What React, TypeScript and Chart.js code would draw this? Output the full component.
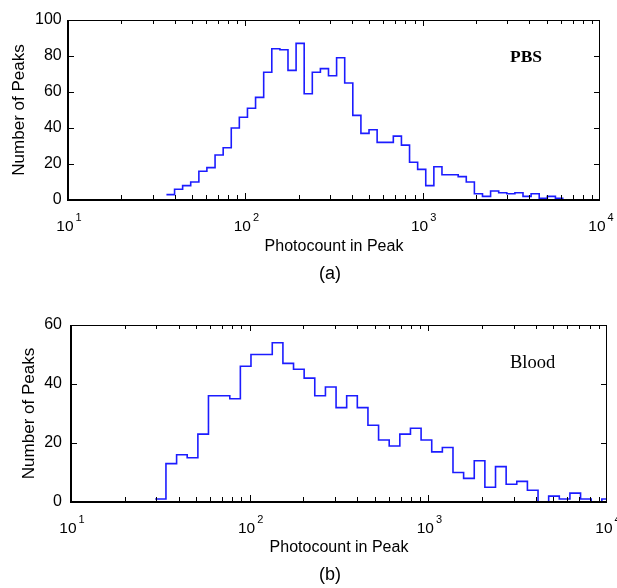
import React, { useEffect, useRef } from "react";
import { Chart, registerables } from "chart.js";

Chart.register(...registerables);

// ---------------- Data ----------------
// Panel (a) PBS: log-spaced bin edges (photocount) and counts per bin
const pbsBinEdges = [
  35.9, 39.9, 44.3, 49.2, 54.7, 60.7, 67.5, 75.0, 83.3, 92.5,
  102.8, 114.2, 126.9, 141.0, 156.6, 174.0, 193.3, 214.7, 238.6, 265.0,
  294.4, 327.1, 363.4, 403.7, 448.5, 498.3, 553.6, 615.0, 683.2, 759.0,
  843.3, 936.9, 1040.9, 1156.4, 1284.7, 1427.3, 1585.7, 1761.7, 1957.2, 2174.3,
  2415.5, 2683.6, 2981.4, 3312.2, 3679.8, 4088.1, 4541.7, 5045.7, 5605.6, 6227.6,
];
const pbsCounts = [
  3, 6, 8, 10, 16, 18, 25, 29, 40, 46,
  51, 57, 71, 84, 83.5, 72, 87, 59, 71, 73,
  69, 79, 65, 47, 37, 39, 32, 32, 35.5, 30.5,
  21, 17, 8, 18.5, 14, 14, 13, 10, 3.5, 2,
  5, 4, 3.5, 4, 2, 3.5, 1, 2, 1,
];

// Panel (b) Blood
const bloodBinEdges = [
  29.6, 34.0, 39.0, 44.7, 51.3, 58.8, 67.5, 77.4, 88.7, 101.7,
  116.7, 133.8, 153.5, 176.0, 201.8, 231.4, 265.5, 304.5, 349.1, 400.4,
  459.2, 526.6, 603.9, 692.6, 794.3, 910.9, 1044.7, 1198.1, 1374.0, 1575.7,
  1807.2, 2072.5, 2376.8, 2725.8, 3126.1, 3585.1, 4111.5, 4715.3, 5407.7, 6201.7,
  7112.4, 8156.8, 9354.5, 10728,
];
const bloodCounts = [
  1, 13, 16, 15, 23, 36, 36, 35, 46, 50,
  50, 54, 47, 45, 42, 36, 39, 32, 36, 32,
  26, 21, 19, 23, 25, 21, 17, 18.5, 10, 8,
  14, 5, 12, 6, 7, 4, 0, 2, 1, 3,
  1, 0, 1,
];

// Axis definitions
const xMin = 10;
const xMax = 10000;
const xMajorExponents = [1, 2, 3, 4];
const xMinorMultipliers = [2, 3, 4, 5, 6, 7, 8, 9];
const pbsYMax = 100;
const bloodYMax = 60;
const yStep = 20;
const xTitle = "Photocount in Peak";
const yTitle = "Number of Peaks";

const SANS = "'Liberation Sans', Arial, Helvetica, sans-serif";
const SERIF = "'Liberation Serif', 'Times New Roman', serif";
const LINE_COLOR = "rgb(28,28,255)";

type PanelProps = {
  edges: number[];
  counts: number[];
  yMax: number;
  label: string;
  labelFont: string;
  labelX: number;
  labelY: number;
  caption: string;
  captionX: number;
  captionY: number;
  top: number;
  height: number;
  padTop: number;
  padRight: number;
  yAxisWidth: number;
  yTickPad: number;
  yTitlePad: number;
  xAxisHeight: number;
  xTitlePad: number;
};

function makeFramePlugin(p: PanelProps) {
  return {
    id: "frame",
    afterDraw(chart: any) {
      const { ctx, chartArea: a, scales } = chart;
      const xs = scales.x;
      const ys = scales.y;
      ctx.save();
      ctx.fillStyle = "#000";
      const L = Math.round(a.left);
      const R = Math.round(a.right) - 1;
      const T = Math.round(a.top);
      const B = Math.round(a.bottom) - 1;
      // box: left and bottom axis lines slightly heavier like the original scan
      ctx.fillRect(L, T, R - L + 1, 1);
      ctx.fillRect(L - 1, B, R - L + 2, 2);
      ctx.fillRect(L - 1, T, 2, B - T + 2);
      ctx.fillRect(R, T, 1, B - T + 1);
      // x ticks (major + minor), inward on bottom and top
      for (const e of xMajorExponents) {
        const base = Math.pow(10, e);
        const vals = [{ v: base, major: true }];
        if (e < 4) for (const m of xMinorMultipliers) vals.push({ v: m * base, major: false });
        for (const { v, major } of vals) {
          if (v < xMin || v > xMax) continue;
          const px = Math.min(R, Math.round(xs.getPixelForValue(v)));
          const len = major ? 6 : 4;
          ctx.fillRect(px, B - len, 1, len);
          ctx.fillRect(px, T, 1, len);
        }
      }
      // y ticks inward on left and right
      for (const t of ys.ticks) {
        const py = Math.min(B, Math.round(ys.getPixelForValue(t.value)));
        ctx.fillRect(L, py, 6, 1);
        ctx.fillRect(R - 5, py, 6, 1);
      }

      // x tick labels: 10 with superscript exponent
      ctx.textBaseline = "alphabetic";
      ctx.textAlign = "left";
      for (const e of xMajorExponents) {
        const x = xs.getPixelForValue(Math.pow(10, e));
        ctx.font = `15.5px ${SANS}`;
        const w1 = ctx.measureText("10").width;
        ctx.font = `11px ${SANS}`;
        const w2 = ctx.measureText(String(e)).width;
        const gap = 2;
        const start = x - (w1 + gap + w2) / 2 + 1;
        ctx.font = `15.5px ${SANS}`;
        ctx.fillText("10", start, a.bottom + 30.5);
        ctx.font = `11px ${SANS}`;
        ctx.fillText(String(e), start + w1 + gap, a.bottom + 20.5);
      }

      // annotation label
      ctx.font = p.labelFont;
      ctx.fillText(p.label, p.labelX, p.labelY);

      // caption (a)/(b)
      ctx.font = `18px ${SANS}`;
      ctx.textAlign = "center";
      ctx.fillText(p.caption, p.captionX, p.captionY);
      ctx.restore();
    },
  };
}

function Panel(p: PanelProps) {
  const ref = useRef<HTMLCanvasElement>(null);
  useEffect(() => {
    if (!ref.current) return;
    const n = p.counts.length;
    const points = p.edges.map((e, i) => ({ x: e, y: p.counts[Math.min(i, n - 1)] }));
    const chart = new Chart(ref.current, {
      type: "line",
      data: {
        datasets: [
          {
            data: points,
            stepped: "before",
            borderColor: LINE_COLOR,
            borderWidth: 1.6,
            pointRadius: 0,
            fill: false,
            tension: 0,
          },
        ],
      },
      options: {
        responsive: false,
        animation: false,
        devicePixelRatio: 1,
        events: [],
        layout: { padding: { top: p.padTop, right: p.padRight, left: 0, bottom: 0 } },
        plugins: { legend: { display: false }, tooltip: { enabled: false } },
        scales: {
          x: {
            type: "logarithmic",
            min: xMin,
            max: xMax,
            grid: { display: false, drawTicks: false },
            border: { display: false },
            ticks: { display: false },
            title: {
              display: true,
              text: xTitle,
              color: "#000",
              font: { family: SANS, size: 16 },
              padding: { top: 0, bottom: p.xTitlePad },
            },
            afterFit: (s: any) => {
              s.height = p.xAxisHeight;
            },
          },
          y: {
            type: "linear",
            min: 0,
            max: p.yMax,
            grid: { display: false, drawTicks: false },
            border: { display: false },
            ticks: {
              stepSize: yStep,
              color: "#000",
              font: { family: SANS, size: 16 },
              padding: p.yTickPad,
            },
            title: {
              display: true,
              text: yTitle,
              color: "#000",
              font: { family: SANS, size: 17 },
              padding: { top: p.yTitlePad, bottom: 0 },
            },
            afterFit: (s: any) => {
              s.width = p.yAxisWidth;
            },
          },
        },
      } as any,
      plugins: [makeFramePlugin(p)],
    });
    return () => chart.destroy();
  }, []);
  return (
    <canvas
      ref={ref}
      width={617}
      height={p.height}
      style={{ position: "absolute", left: 0, top: p.top, width: 617, height: p.height, display: "block" }}
    />
  );
}

export default function App() {
  return (
    <div
      style={{
        position: "absolute",
        left: 0,
        top: 0,
        width: 617,
        height: 588,
        background: "#fff",
        overflow: "hidden",
      }}
    >
      <Panel
        edges={pbsBinEdges}
        counts={pbsCounts}
        yMax={pbsYMax}
        label="PBS"
        labelFont={`bold 17.5px ${SERIF}`}
        labelX={510}
        labelY={61.7}
        caption="(a)"
        captionX={330}
        captionY={279}
        top={0}
        height={295}
        padTop={20}
        padRight={17}
        yAxisWidth={68}
        yTickPad={6.3}
        yTitlePad={8.9}
        xAxisHeight={95}
        xTitlePad={39.2}
      />
      <Panel
        edges={bloodBinEdges}
        counts={bloodCounts}
        yMax={bloodYMax}
        label="Blood"
        labelFont={`18.5px ${SERIF}`}
        labelX={510}
        labelY={73.3}
        caption="(b)"
        captionX={330}
        captionY={284.7}
        top={295}
        height={293}
        padTop={30}
        padRight={10}
        yAxisWidth={71}
        yTickPad={9}
        yTitlePad={18.9}
        xAxisHeight={86}
        xTitlePad={30.9}
      />
    </div>
  );
}
